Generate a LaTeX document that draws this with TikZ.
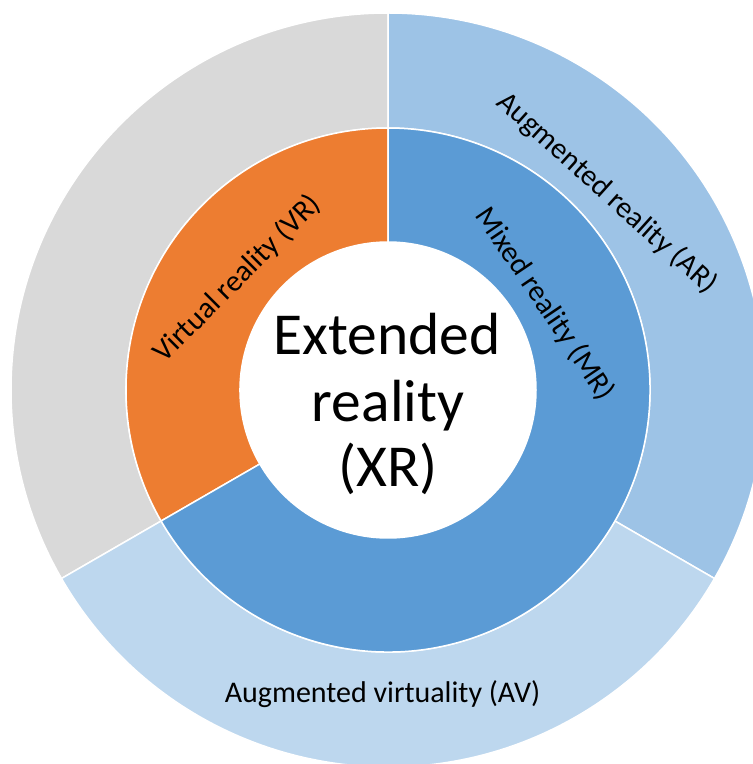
\documentclass[tikz,border=0pt]{standalone}
\usepackage{fontspec}
\setmainfont{Carlito}
\definecolor{cgray}{HTML}{D9D9D9}
\definecolor{corange}{HTML}{ED7D31}
\definecolor{cmr}{HTML}{5B9BD5}
\definecolor{car}{HTML}{9DC3E6}
\definecolor{cav}{HTML}{BDD7EE}
\begin{document}
\begin{tikzpicture}[x=1pt,y=1pt,
  seg/.style={draw=white, line width=1.5pt, line join=round},
  lbl/.style={font=\fontsize{30}{36}\selectfont, inner sep=0pt, text=black},
  big/.style={font=\fontsize{59.5}{66}\selectfont, inner sep=0pt, text=black, anchor=base}]
\useasboundingbox (0,0) rectangle (753,764);
\clip (0,0) rectangle (753,764);
\fill[white] (0,0) rectangle (753,764);
\coordinate (c) at (388,374);
\begin{scope}[shift={(c)}]
  % outer ring
  \path[seg, fill=cgray] (90:377) arc[start angle=90, end angle=210, radius=377]
     -- (210:262) arc[start angle=210, end angle=90, radius=262] -- cycle;
  \path[seg, fill=car] (-30:377) arc[start angle=-30, end angle=90, radius=377]
     -- (90:262) arc[start angle=90, end angle=-30, radius=262] -- cycle;
  \path[seg, fill=cav] (210:377) arc[start angle=210, end angle=330, radius=377]
     -- (330:262) arc[start angle=330, end angle=210, radius=262] -- cycle;
  % inner ring
  \path[seg, fill=corange] (90:262) arc[start angle=90, end angle=210, radius=262]
     -- (210:148) arc[start angle=210, end angle=90, radius=148] -- cycle;
  \path[seg, fill=cmr] (210:262) arc[start angle=210, end angle=450, radius=262]
     -- (90:148) arc[start angle=90, end angle=-150, radius=148] -- cycle;
  % centre
  \fill[white] (0,0) circle[radius=148];
\end{scope}
% labels
\node[lbl, rotate=-42] (ar) at (607,571) {Augmented reality (AR)};
\node[lbl, rotate=-56] (mr) at (545,460) {Mixed reality (MR)};
\node[lbl, rotate=45] (vr) at (237.5,485.5) {Virtual reality (VR)};
\node[lbl, anchor=base] (av) at (382.5,61) {Augmented virtuality (AV)};
\node[big] (xr1) at (387,409) {Extended};
\node[big] (xr2) at (388,342) {reality};
\node[big] (xr3) at (388,277) {(XR)};
\end{tikzpicture}
\end{document}
